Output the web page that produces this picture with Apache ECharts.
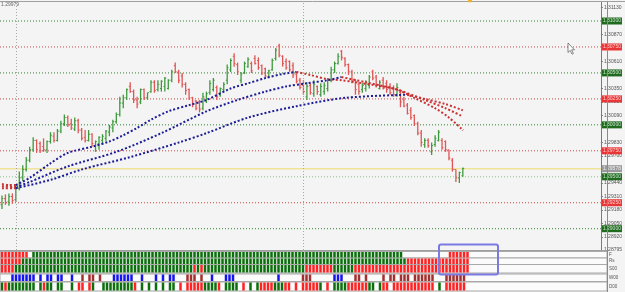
<!DOCTYPE html>
<html><head><meta charset="utf-8">
<script src="https://cdn.jsdelivr.net/npm/echarts@6/dist/echarts.min.js"></script>
<style>html,body{margin:0;padding:0;background:#f4f4f4}#c{width:625px;height:292px}</style>
</head><body><div id="c"></div>
<script>
// ---------- DATA ----------
const barOpen = [
1.2923,1.2929,1.2926,1.2931,1.2928,1.2939,1.2949,1.2957,1.2966,1.2976,
1.2985,1.2982,1.2979,1.2976,1.2984,1.2989,1.2985,1.2994,1.3001,1.3007,
1.3001,1.2996,1.3004,1.2995,1.2988,1.2985,1.2991,1.2980,1.2982,1.2985,
1.2987,1.2993,1.2997,1.3003,1.3010,1.3021,1.3026,1.3037,1.3032,1.3024,
1.3022,1.3034,1.3026,1.3032,1.3041,1.3034,1.3035,1.3037,1.3035,1.3043,
1.3057,1.3051,1.3047,1.3039,1.3034,1.3026,1.3023,1.3022,1.3016,1.3023,
1.3031,1.3034,1.3036,1.3029,1.3034,1.3043,1.3053,1.3066,1.3058,1.3043,
1.3050,1.3056,1.3059,1.3064,1.3062,1.3057,1.3054,1.3046,1.3053,1.3064,
1.3076,1.3066,1.3061,1.3061,1.3057,1.3049,1.3043,1.3038,1.3027,1.3038,
1.3030,1.3037,1.3029,1.3032,1.3035,1.3043,1.3053,1.3059,1.3071,1.3064,
1.3058,1.3051,1.3043,1.3039,1.3034,1.3035,1.3038,1.3051,1.3046,1.3035,
1.3043,1.3040,1.3037,1.3035,1.3029,1.3031,1.3024,1.3019,1.3014,1.3009,
1.3001,1.2992,1.2981,1.2985,1.2974,1.2981,1.2985,1.2985,1.2984,1.2976,
1.2966,1.2957,1.2949,1.2951];
const barHigh = [
1.2932,1.2933,1.2934,1.2934,1.2942,1.2955,1.2961,1.2969,1.2979,1.2988,
1.2986,1.2984,1.2987,1.2985,1.2993,1.2993,1.2996,1.3004,1.3010,1.3009,
1.3006,1.3007,1.3006,1.2997,1.2995,1.2995,1.2992,1.2985,1.2989,1.2991,
1.2995,1.3000,1.3005,1.3012,1.3027,1.3029,1.3035,1.3041,1.3034,1.3027,
1.3035,1.3035,1.3031,1.3043,1.3043,1.3043,1.3043,1.3046,1.3044,1.3053,
1.3060,1.3053,1.3050,1.3041,1.3035,1.3027,1.3024,1.3024,1.3031,1.3032,
1.3043,1.3045,1.3038,1.3036,1.3041,1.3058,1.3064,1.3069,1.3060,1.3051,
1.3061,1.3065,1.3061,1.3067,1.3065,1.3058,1.3055,1.3053,1.3064,1.3074,
1.3078,1.3067,1.3064,1.3062,1.3060,1.3051,1.3045,1.3043,1.3041,1.3040,
1.3043,1.3038,1.3040,1.3041,1.3045,1.3056,1.3061,1.3069,1.3072,1.3065,
1.3059,1.3053,1.3044,1.3041,1.3040,1.3043,1.3048,1.3053,1.3048,1.3043,
1.3046,1.3043,1.3040,1.3038,1.3040,1.3034,1.3027,1.3021,1.3017,1.3010,
1.3003,1.2995,1.2987,1.2987,1.2983,1.2990,1.2995,1.2987,1.2985,1.2976,
1.2968,1.2957,1.2955,1.2959];
const barLow = [
1.2919,1.2923,1.2922,1.2924,1.2926,1.2937,1.2946,1.2955,1.2964,1.2974,
1.2973,1.2973,1.2974,1.2973,1.2982,1.2983,1.2984,1.2992,1.2999,1.2998,
1.2995,1.2994,1.2992,1.2985,1.2983,1.2984,1.2979,1.2974,1.2976,1.2981,
1.2984,1.2989,1.2993,1.3001,1.3008,1.3016,1.3024,1.3031,1.3021,1.3016,
1.3020,1.3024,1.3024,1.3031,1.3031,1.3032,1.3032,1.3032,1.3034,1.3041,
1.3050,1.3040,1.3036,1.3029,1.3024,1.3017,1.3014,1.3012,1.3014,1.3021,
1.3029,1.3032,1.3024,1.3027,1.3032,1.3039,1.3051,1.3056,1.3048,1.3040,
1.3049,1.3055,1.3050,1.3058,1.3053,1.3048,1.3045,1.3045,1.3052,1.3062,
1.3065,1.3056,1.3053,1.3051,1.3045,1.3040,1.3034,1.3029,1.3024,1.3029,
1.3027,1.3029,1.3027,1.3029,1.3032,1.3041,1.3050,1.3058,1.3062,1.3056,
1.3048,1.3040,1.3029,1.3029,1.3031,1.3032,1.3035,1.3043,1.3036,1.3034,
1.3034,1.3031,1.3029,1.3027,1.3027,1.3017,1.3017,1.3010,1.3005,1.2999,
1.2990,1.2979,1.2978,1.2978,1.2971,1.2979,1.2984,1.2976,1.2974,1.2966,
1.2955,1.2945,1.2944,1.2950];
const barClose = [
1.2929,1.2925,1.2931,1.2927,1.2939,1.2949,1.2957,1.2966,1.2976,1.2985,
1.2976,1.2975,1.2976,1.2984,1.2990,1.2985,1.2994,1.3001,1.3007,1.3000,
1.2997,1.3004,1.2995,1.2987,1.2985,1.2991,1.2982,1.2984,1.2988,1.2989,
1.2994,1.2998,1.3003,1.3010,1.3021,1.3026,1.3034,1.3032,1.3024,1.3020,
1.3034,1.3026,1.3031,1.3041,1.3033,1.3039,1.3042,1.3045,1.3043,1.3051,
1.3051,1.3043,1.3039,1.3033,1.3026,1.3020,1.3016,1.3015,1.3027,1.3030,
1.3040,1.3043,1.3027,1.3035,1.3039,1.3055,1.3062,1.3059,1.3051,1.3049,
1.3059,1.3063,1.3052,1.3059,1.3055,1.3050,1.3047,1.3052,1.3062,1.3072,
1.3067,1.3059,1.3055,1.3053,1.3048,1.3042,1.3036,1.3032,1.3037,1.3031,
1.3039,1.3032,1.3037,1.3038,1.3043,1.3053,1.3059,1.3066,1.3065,1.3058,
1.3051,1.3043,1.3034,1.3032,1.3038,1.3041,1.3046,1.3045,1.3038,1.3041,
1.3035,1.3034,1.3031,1.3029,1.3036,1.3022,1.3018,1.3011,1.3007,1.3001,
1.2992,1.2983,1.2985,1.2980,1.2980,1.2987,1.2993,1.2978,1.2976,1.2968,
1.2957,1.2949,1.2954,1.2958];

// moving averages: [bar index, price]
const maFastRed0 = [[0,1.2943],[2,1.2942],[4,1.2942]];
const maFastBlue = [[4,1.2942],[8,1.2949],[14,1.2963],[19,1.2973],[26,1.2979],[31,1.2984],[35,1.2990],[39,1.2997],[43,1.3005],[48,1.3013],[54,1.3019],[59,1.3024],[66,1.3035],[71,1.3040],[76,1.3045],[81,1.3049],[85,1.3051]];
const maFastRed = [[85,1.3051],[89,1.3048],[94,1.3044],[98,1.3043],[102,1.3041],[108,1.3038],[114,1.3034],[119,1.3026],[125,1.3016],[129,1.3007],[133,1.2995]];
const maMidRed0 = [[0,1.2941],[4,1.2940]];
const maMidBlue = [[4,1.2940],[8,1.2945],[19,1.2960],[33,1.2974],[46,1.2992],[59,1.3013],[68,1.3024],[76,1.3032],[82,1.3037],[88,1.3040],[94,1.3043],[98,1.3046]];
const maMidRed = [[98,1.3046],[105,1.3041],[114,1.3034],[122,1.3024],[128,1.3016],[133,1.3008]];
const maSlowRed0 = [[0,1.2939],[4,1.2939]];
const maSlowBlue = [[4,1.2939],[14,1.2947],[23,1.2957],[37,1.2969],[51,1.2983],[59,1.2992],[71,1.3007],[85,1.3018],[99,1.3026],[117,1.3029]];
const maSlowRed = [[117,1.3029],[122,1.3025],[128,1.3020],[133,1.3014]];

// horizontal levels
const levelValues = [1.3100,1.3075,1.3050,1.3025,1.3000,1.2975,1.2950,1.2925,1.2900];
const levelKinds  = ['g','r','g','r','g','r','g2','r','g'];
const bidPrice = 1.29578;
const separators = [4, 87];

// price axis tick labels
const tickValues = [1.31130,1.30870,1.30610,1.30350,1.30220,1.30090,1.29830,1.29700,1.29440,1.29310,1.29180,1.29050,1.28920,1.28795];

// indicator strips (one char per bar: g green, r red, b blue, d dark red, . none)
const strip1 = 'rrrrrrrr.g'+'gggggggggg'+'gggggggggg'+'gggggggggg'+'gggggggggg'+'gggggggggg'+'gggggggggg'+'gggggggggg'+'gggggggggg'+'gggggggggg'+'gggggggggg'+'ggggg.....'+'........rr'+'rrrr';
const strip2 = 'rrrrrrgggg'+'gggggggggg'+'gggggggggg'+'gggggggggg'+'gggggggggg'+'gggggggggg'+'gggggggggg'+'gggggggggg'+'gggggggggg'+'gggggggggg'+'gggggggggg'+'ggggggrrrr'+'rrrrrrrrrr'+'rrrr';
const strip3 = 'rrrrgggggg'+'gggggggggg'+'gggggggggg'+'gggggggggg'+'gggggggggg'+'gggggrgrgg'+'gggggggggg'+'gggggggggg'+'gggggggrrr'+'rrrrrggggg'+'grrrrrrrrr'+'rrrrrrrrrr'+'rrrrrrrrrr'+'rrrr';
const strip4 = '...bbbbbbb'+'.b.bb.bb..'+'b..d.dd.d.'+'..bbbbbb..'+'b...b.b.bb'+'...ddd.d..'+'b...bbb...'+'.........b'+'......ddd.'+'.....bbb..'+'.dd.d....d'+'.dd.ddd.dd'+'dddd...ddd'+'ddd.';
const strip5 = 'grgggggggg'+'.grgg.gg..'+'g.rr.rg..g'+'ggggggggr.'+'g.g.g.g.gg'+'.r.rrrrrgg'+'ggr.gggg.r'+'.g.grrrrgg'+'grr.r.rrrr'+'rg.r.ggggr'+'rrrrrgg.gr'+'r.rrrrrrrr'+'rrrr.g.rrr'+'rrr.';
const stripLabels = ['F','Rs','S00','W00','D00'];

// ---------- LAYOUT / STYLE ----------
const XMIN = -2/3.5, XMAX = -2/3.5 + 607/3.5;
const UP = '#3f9a3f', DOWN = '#e05555';
const BLUE_MA = '#1c1c96', RED_MA = '#c83232';
const CELL = {g:'#0d6e0d', r:'#ff2222', b:'#1414f0', d:'#a33030'};
const ROWS = [[1,6.5],[7.5,13],[14,21.5],[23.5,30],[31.5,39.5]];
const LV = {g:{line:'#2f7f2f', bg:'#1f6a1f', fg:'#cfe8cf'}, g2:{line:'#8cbf8c', bg:'#1f6a1f', fg:'#cfe8cf'}, r:{line:'#cc4444', bg:'#e83535', fg:'#ffd0d0'}};

const ohlc = barOpen.map((o,i)=>[i,o,barClose[i],barLow[i],barHigh[i]]);
const strips = [strip1,strip2,strip3,strip4,strip5];
const cellData = [];
const codes = ['g','r','b','d'];
strips.forEach((s,r)=>{ for(let i=0;i<s.length;i++){ const k=codes.indexOf(s[i]); if(k>=0) cellData.push([i,r,k]); } });

function maSeries(data,color){
  return {type:'line', xAxisIndex:0, yAxisIndex:0, data, showSymbol:false, smooth:0.3, silent:true,
    lineStyle:{color, width:2, type:[2,2]}, z:3, animation:false};
}
function levelSeries(v, lineColor, lineType, lineWidth, bg, fg){
  return {type:'line', xAxisIndex:0, yAxisIndex:0, data:[[XMIN,v],[XMAX-0.01,v]], showSymbol:false, silent:true, z:1,
    lineStyle:{color:lineColor, type:lineType, width:lineWidth},
    endLabel:{show:true, formatter:v.toFixed(5), backgroundColor:bg, color:fg, fontSize:5, padding:[1,1], distance:1, fontFamily:'Liberation Sans'}};
}

const levelSeriesList = levelValues.map((v,i)=>{
  const s = LV[levelKinds[i]];
  return levelSeries(v, s.line, [1,2], 1, s.bg, s.fg);
});
levelSeriesList.push(levelSeries(bidPrice, '#efe39a', 'solid', 1.5, '#9a9a9a', '#f0f0f0'));

const graphics = [];
ROWS.forEach((r,k)=>{
  graphics.push({type:'rect', z:0, shape:{x:0, y:251+r[0]-0.5, width:607, height:r[1]-r[0]+1}, style:{fill:'#fbfbfb', stroke:'#a9a9a9', lineWidth:1}});
  graphics.push({type:'text', z:5, x:609, y:251+(r[0]+r[1])/2, style:{text:stripLabels[k], fontSize:4.5, fill:'#555', verticalAlign:'middle', fontFamily:'Liberation Sans'}});
});
// panel frame lines (top border, price/indicator separator, price-scale edge)
graphics.push({type:'line', z:5, shape:{x1:0, y1:1.5, x2:625, y2:1.5}, style:{stroke:'#a0a0a0', lineWidth:1}});
graphics.push({type:'line', z:5, shape:{x1:0, y1:250.5, x2:607, y2:250.5}, style:{stroke:'#a0a0a0', lineWidth:1}});
graphics.push({type:'line', z:5, shape:{x1:607.5, y1:1.5, x2:607.5, y2:292}, style:{stroke:'#8a8a8a', lineWidth:1}});
graphics.push({type:'text', z:5, x:1, y:2.5, style:{text:'1.29979', fontSize:5, fill:'#666', fontFamily:'Liberation Sans'}});
graphics.push({type:'circle', z:5, shape:{cx:470, cy:0.5, r:2}, style:{fill:'#f2b01e'}});
graphics.push({type:'polygon', z:6, shape:{points:[[568,43],[568,52.5],[570.2,50.4],[572,54.2],[573.4,53.5],[571.6,49.8],[574.5,49.8]]}, style:{fill:'#ffffff', stroke:'#555', lineWidth:0.7}});
graphics.push({type:'rect', z:100, shape:{x:439, y:244.5, width:59, height:30, r:2}, style:{fill:'rgba(0,0,0,0)', stroke:'#7a7ae2', lineWidth:2}});

const chart = echarts.init(document.getElementById('c'));
chart.setOption({
  animation:false,
  backgroundColor:'#f4f4f4',
  grid:[
    {left:0, right:18, top:2, height:248, show:false},
    {left:0, right:18, top:251, height:40, show:false}
  ],
  xAxis:[
    {type:'value', gridIndex:0, min:XMIN, max:XMAX, show:false},
    {type:'value', gridIndex:1, min:XMIN, max:XMAX, show:false}
  ],
  yAxis:[
    {type:'value', gridIndex:0, position:'right', min:1.28795, max:1.31183, splitLine:{show:false},
     axisLine:{show:true, onZero:false, lineStyle:{color:'#7a7a7a'}},
     axisTick:{show:true, length:2, customValues:tickValues, lineStyle:{color:'#7a7a7a'}},
     axisLabel:{customValues:tickValues, fontSize:5, color:'#555', margin:3, fontFamily:'Liberation Sans', formatter:v=>v.toFixed(5)}},
    {type:'value', gridIndex:1, min:0, max:40, inverse:true, show:false}
  ],
  graphic:graphics,
  series:[
    ...levelSeriesList,
    {type:'line', xAxisIndex:0, yAxisIndex:0, data:[[XMIN,1.3],[XMIN,1.3]], showSymbol:false, lineStyle:{opacity:0}, silent:true, z:1,
     markLine:{silent:true, symbol:'none', animation:false,
       data:separators.map(x=>({xAxis:x, lineStyle:{color:'#a8a8a8', type:[1,2], width:1}, label:{show:false}}))}},
    {type:'custom', xAxisIndex:0, yAxisIndex:0, data:ohlc, z:2, silent:true,
     renderItem:function(params, api){
       const i=api.value(0), o=api.value(1), c=api.value(2), l=api.value(3), h=api.value(4);
       const pH=api.coord([i,h]), pL=api.coord([i,l]), pO=api.coord([i,o]), pC=api.coord([i,c]);
       const w=api.size([1,0])[0];
       const col = c>=o ? UP : DOWN;
       return {type:'group', children:[
         {type:'line', shape:{x1:pH[0], y1:pH[1], x2:pL[0], y2:pL[1]}, style:{stroke:col, lineWidth:1.3}},
         {type:'line', shape:{x1:pO[0]-w*0.4, y1:pO[1], x2:pO[0], y2:pO[1]}, style:{stroke:col, lineWidth:1}},
         {type:'line', shape:{x1:pC[0], y1:pC[1], x2:pC[0]+w*0.4, y2:pC[1]}, style:{stroke:col, lineWidth:1}}
       ]};
     }},
    maSeries(maFastRed0, RED_MA), maSeries(maFastBlue, BLUE_MA), maSeries(maFastRed, RED_MA),
    maSeries(maMidRed0, RED_MA), maSeries(maMidBlue, BLUE_MA), maSeries(maMidRed, RED_MA),
    maSeries(maSlowRed0, RED_MA), maSeries(maSlowBlue, BLUE_MA), maSeries(maSlowRed, RED_MA),
    {type:'custom', xAxisIndex:1, yAxisIndex:1, data:cellData, z:4, silent:true,
     renderItem:function(params, api){
       const i=api.value(0), r=api.value(1), k=api.value(2);
       const row=ROWS[r];
       const a=api.coord([i,row[0]]), b=api.coord([i,row[1]]);
       const w=api.size([1,0])[0];
       return {type:'rect', shape:{x:a[0]-w/2+0.5, y:a[1], width:w-1, height:b[1]-a[1]}, style:{fill:CELL[codes[k]]}};
     }}
  ]
});
</script>
</body></html>
